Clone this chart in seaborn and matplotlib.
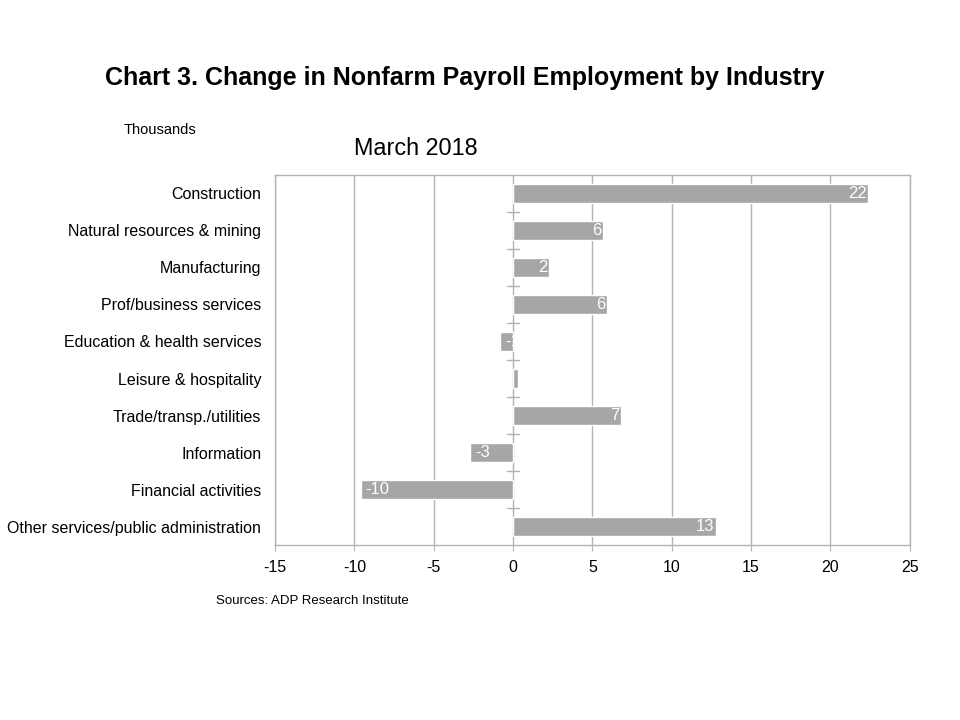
import matplotlib
matplotlib.use("Agg")
import matplotlib.pyplot as plt
import seaborn as sns
import pandas as pd

# ---------------- DATA ---------------- #

industries = [
    "Construction",
    "Natural resources & mining",
    "Manufacturing",
    "Prof/business services",
    "Education & health services",
    "Leisure & hospitality",
    "Trade/transp./utilities",
    "Information",
    "Financial activities",
    "Other services/public administration",
]
change = [22.4, 5.7, 2.3, 5.9, -0.8, 0.3, 6.8, -2.7, -9.6, 12.8]
x_ticks = [-15, -10, -5, 0, 5, 10, 15, 20, 25]

df = pd.DataFrame({"industry": industries, "change": change})

# ---------------- STYLE ---------------- #

sns.set_style("white")
plt.rcParams["font.family"] = ["Liberation Sans", "DejaVu Sans"]
plt.rcParams["text.color"] = "black"
plt.rcParams["xtick.color"] = "black"
plt.rcParams["ytick.color"] = "black"

BAR = "#a6a6a6"
GRID = "#b3b3b3"

fig = plt.figure(figsize=(9.6, 7.2), dpi=100)
ax = fig.add_axes([0.2865, 0.243, 0.661, 0.514])

sns.barplot(data=df, x="change", y="industry", orient="h", color=BAR,
            width=0.5, saturation=1, ax=ax, zorder=3)

n = len(industries)
ax.set_ylim(n - 0.5, -0.5)
ax.set_xlim(x_ticks[0], x_ticks[-1])
ax.set_xticks(x_ticks)
ax.set_xticklabels([str(t) for t in x_ticks], fontsize=11.5)
ax.grid(axis="x", color=GRID, linewidth=1, zorder=0)
ax.set_xlabel("")
ax.set_ylabel("")
ax.tick_params(axis="y", length=0, pad=10, labelsize=11.5, labelcolor="black")
ax.tick_params(axis="x", length=4, color=GRID, pad=7, bottom=True,
               labelcolor="black")
for s in ax.spines.values():
    s.set_color(GRID)
    s.set_linewidth(1)

# category axis ticks at zero
for i in range(n - 1):
    ax.plot([-0.35, 0.35], [i + 0.5, i + 0.5], color=GRID, lw=1, zorder=4)

# value labels inside bar ends
for i, v in enumerate(change):
    r = round(v)
    if r == 0:
        continue
    if v > 0:
        ax.text(v - 0.1, i, str(r), ha="right", va="center",
                color="white", fontsize=12, zorder=5)
    else:
        ax.text(v + 0.3, i, str(r), ha="left", va="center",
                color="white", fontsize=12, zorder=5)

# ---------------- TEXT ---------------- #

fig.text(0.109, 0.892, "Chart 3. Change in Nonfarm Payroll Employment by Industry",
         fontsize=18, fontweight="bold", ha="left", va="center")
fig.text(0.129, 0.820, "Thousands", fontsize=10.5, ha="left", va="center")
fig.text(0.369, 0.794, "March 2018", fontsize=16.8, ha="left", va="center")
fig.text(0.225, 0.165, "Sources: ADP Research Institute", fontsize=9.5,
         ha="left", va="center")

fig.savefig("out.png", dpi=100)
